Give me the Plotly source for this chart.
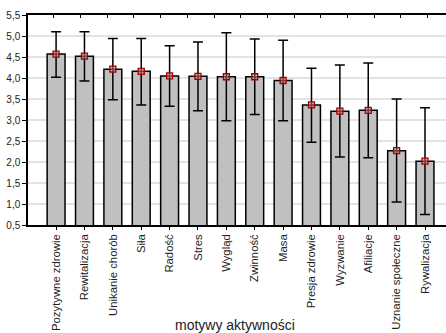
import plotly.graph_objects as go

categories = ["Pozytywne zdrowie", "Rewitalizacja", "Unikanie chorób", "Siła", "Radość",
              "Stres", "Wygląd", "Zwinność", "Masa", "Presja zdrowie", "Wyzwanie",
              "Afiliacje", "Uznanie społeczne", "Rywalizacja"]
means = [4.57, 4.52, 4.21, 4.16, 4.05, 4.04, 4.03, 4.03, 3.94, 3.36, 3.21, 3.23, 2.27, 2.02]
upper = [5.10, 5.10, 4.94, 4.94, 4.77, 4.86, 5.08, 4.93, 4.90, 4.23, 4.31, 4.36, 3.50, 3.29]
lower = [4.02, 3.93, 3.48, 3.36, 3.33, 3.22, 2.98, 3.13, 2.98, 2.47, 2.12, 2.10, 1.05, 0.75]
yticks = [0.5, 1.0, 1.5, 2.0, 2.5, 3.0, 3.5, 4.0, 4.5, 5.0, 5.5]

err_plus = [u - m for u, m in zip(upper, means)]
err_minus = [m - l for m, l in zip(means, lower)]

FONT = "Arial, Liberation Sans, sans-serif"
xr = [-0.99, 13.74]

fig = go.Figure()
fig.add_trace(go.Bar(
    x=categories, y=means, width=0.63,
    marker=dict(color="#c0c0c0", line=dict(color="black", width=1.5)),
    showlegend=False, hoverinfo="skip",
))
fig.add_trace(go.Scatter(
    x=categories, y=means, mode="markers",
    marker=dict(symbol="square", size=6, color="rgba(200,120,120,0.55)",
                line=dict(color="#a00000", width=1.3)),
    error_y=dict(type="data", symmetric=False, array=err_plus, arrayminus=err_minus,
                 color="black", thickness=1.5, width=5),
    showlegend=False, hoverinfo="skip",
))
# invisible trace for the top decorative axis
fig.add_trace(go.Scatter(x=[xr[0]], y=[0.5], xaxis="x2", mode="markers",
                         marker=dict(opacity=0), showlegend=False, hoverinfo="skip"))

fig.update_layout(
    width=446, height=333,
    margin=dict(l=28, r=0, t=15, b=108, autoexpand=False),
    paper_bgcolor="white", plot_bgcolor="white",
    separators=", ",
    font=dict(family=FONT, size=11, color="#222"),
    xaxis=dict(
        type="category", range=xr, tickangle=-90, automargin=False,
        showline=True, linecolor="black", linewidth=1.5,
        ticks="outside", ticklen=3, tickcolor="black",
        showgrid=False, tickfont=dict(size=11.3, color="#222"),
    ),
    xaxis2=dict(
        overlaying="x", side="top", range=xr, type="linear", automargin=False,
        tick0=-0.075, dtick=0.94, ticks="inside", ticklen=3, tickcolor="black",
        showticklabels=False, showgrid=False, zeroline=False,
        showline=True, linecolor="black", linewidth=1.5,
    ),
    yaxis=dict(
        range=[0.5, 5.5], tickvals=yticks, tickformat=".1f", automargin=False,
        showline=True, linecolor="black", linewidth=1.5,
        ticks="outside", ticklen=4, tickcolor="black",
        showgrid=True, gridcolor="#e3e3e3", gridwidth=1.5, zeroline=False,
        tickfont=dict(size=10, color="#222"),
    ),
    annotations=[dict(
        text="motywy aktywności", xref="paper", yref="paper",
        x=(235 - 28) / 418, y=(225 - 325) / 210, xanchor="center", yanchor="middle",
        showarrow=False, font=dict(size=14, color="#222"),
    )],
)

fig.write_html("out.html", config={"displayModeBar": False},
               post_script="document.body.style.margin='0px';document.body.style.padding='0px';")
